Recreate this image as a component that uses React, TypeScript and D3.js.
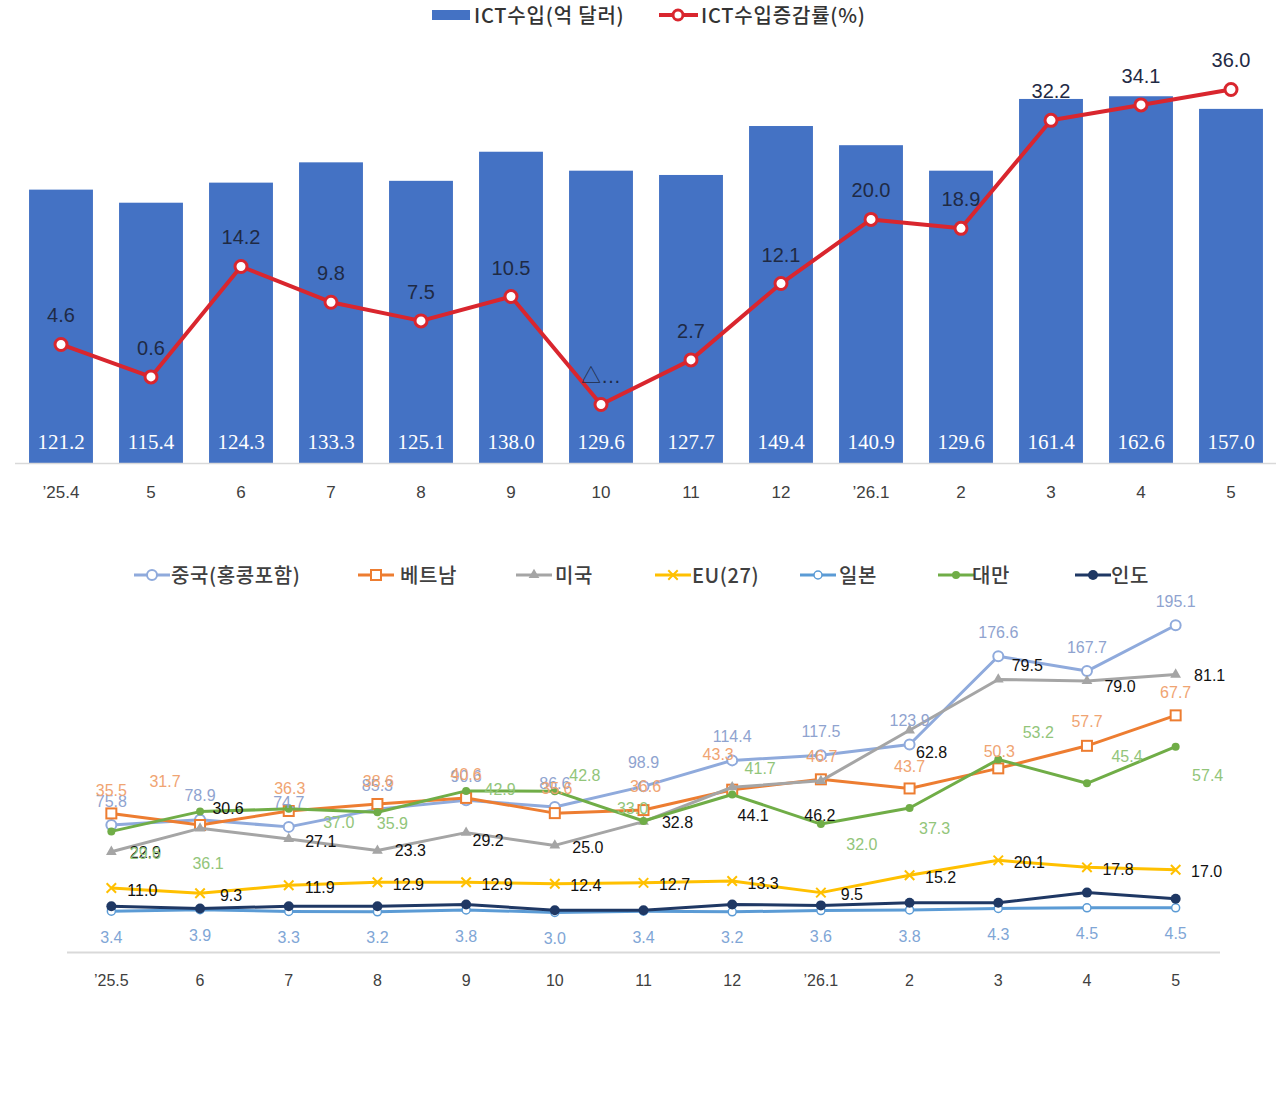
import React from 'react';
import * as d3 from 'd3';

// top chart: ICT imports (bars) and growth rate (line)
const topMonths = ['’25.4', '5', '6', '7', '8', '9', '10', '11', '12', '’26.1', '2', '3', '4', '5'];
const importValues = [121.2, 115.4, 124.3, 133.3, 125.1, 138.0, 129.6, 127.7, 149.4, 140.9, 129.6, 161.4, 162.6, 157.0];
const growthRates = [4.6, 0.6, 14.2, 9.8, 7.5, 10.5, -2.8, 2.7, 12.1, 20.0, 18.9, 32.2, 34.1, 36.0];
const growthLabels = ['4.6', '0.6', '14.2', '9.8', '7.5', '10.5', '△…', '2.7', '12.1', '20.0', '18.9', '32.2', '34.1', '36.0'];

// bottom chart: imports by country
const bottomMonths = ['’25.5', '6', '7', '8', '9', '10', '11', '12', '’26.1', '2', '3', '4', '5'];
const chinaValues = [75.8, 78.9, 74.7, 85.3, 90.6, 86.6, 98.9, 114.4, 117.5, 123.9, 176.6, 167.7, 195.1];
const vietnamValues = [35.5, 31.7, 36.3, 38.6, 40.6, 35.6, 36.6, 43.3, 46.7, 43.7, 50.3, 57.7, 67.7];
const usValues = [22.9, 30.6, 27.1, 23.3, 29.2, 25.0, 32.8, 44.1, 46.2, 62.8, 79.5, 79.0, 81.1];
const euValues = [11.0, 9.3, 11.9, 12.9, 12.9, 12.4, 12.7, 13.3, 9.5, 15.2, 20.1, 17.8, 17.0];
const japanValues = [3.4, 3.9, 3.3, 3.2, 3.8, 3.0, 3.4, 3.2, 3.6, 3.8, 4.3, 4.5, 4.5];
const taiwanValues = [29.6, 36.1, 37.0, 35.9, 42.9, 42.8, 33.0, 41.7, 32.0, 37.3, 53.2, 45.4, 57.4];
const indiaValues = [5.0, 4.3, 5.0, 5.0, 5.6, 3.7, 3.7, 5.6, 5.3, 6.2, 6.2, 9.5, 7.5];

const sans = '"Liberation Sans", Arial, "Noto Sans CJK KR", sans-serif';
const kr = '"Noto Sans CJK KR", "Liberation Sans", sans-serif';

// label placement relative to each point
const chinaOff = chinaValues.map(() => [0, -24]);
const vietnamOff = [[0, -23], [-35, -44], [1, -23], [1, -23], [0, -24], [2, -25], [2, -24], [-14, -35], [1, -23], [0, -22], [1, -17], [0, -24], [0, -23]];
const usOff = [[34, 1], [28, -20], [32, 2], [33, 0], [22, 8], [33, 2], [34, 1], [21, 28], [-1, 35], [22, 22], [29, -14], [33, 5], [34, 1]];
const euOff = euValues.map(() => [31, 2]);
const japanOff = japanValues.map(() => [0, 26]);
const taiwanOff = [[34, 22], [8, 52], [50, 14], [15, 11], [34, -1], [30, -16], [-11, -13], [28, -26], [41, 20], [25, 20], [40, -27], [40, -27], [32, 29]];

type Marker = 'circle' | 'square' | 'triangle' | 'x' | 'smallCircle' | 'dot' | 'bigDot';

interface Series {
  name: string;
  values: number[];
  color: string;
  labelColor: string | null;
  marker: Marker;
  secondary: boolean;
  offsets: number[][] | null;
}

const series: Series[] = [
  { name: '중국(홍콩포함)', values: chinaValues, color: '#8FAADC', labelColor: '#8FA3CF', marker: 'circle', secondary: true, offsets: chinaOff },
  { name: '베트남', values: vietnamValues, color: '#ED7D31', labelColor: '#F0A472', marker: 'square', secondary: false, offsets: vietnamOff },
  { name: '미국', values: usValues, color: '#A5A5A5', labelColor: '#111111', marker: 'triangle', secondary: false, offsets: usOff },
  { name: 'EU(27)', values: euValues, color: '#FFC000', labelColor: '#111111', marker: 'x', secondary: false, offsets: euOff },
  { name: '일본', values: japanValues, color: '#5B9BD5', labelColor: '#7FA6D6', marker: 'smallCircle', secondary: false, offsets: japanOff },
  { name: '대만', values: taiwanValues, color: '#70AD47', labelColor: '#92C57A', marker: 'dot', secondary: false, offsets: taiwanOff },
  { name: '인도', values: indiaValues, color: '#1F3864', labelColor: null, marker: 'bigDot', secondary: false, offsets: null },
];

const drawMarker = (m: Marker, x: number, y: number, color: string, key: string) => {
  switch (m) {
    case 'circle':
      return <circle key={key} cx={x} cy={y} r={5} fill="#fff" stroke={color} strokeWidth={2} />;
    case 'square':
      return <rect key={key} x={x - 5} y={y - 5} width={10} height={10} fill="#fff" stroke={color} strokeWidth={2} />;
    case 'triangle':
      return <path key={key} d={d3.symbol().type(d3.symbolTriangle).size(50)()!} transform={`translate(${x},${y})`} fill={color} />;
    case 'x':
      return <path key={key} d={d3.symbol().type(d3.symbolTimes).size(60)()!} transform={`translate(${x},${y})`} fill="none" stroke={color} strokeWidth={2} />;
    case 'smallCircle':
      return <circle key={key} cx={x} cy={y} r={4} fill="#fff" stroke={color} strokeWidth={1.5} />;
    case 'dot':
      return <circle key={key} cx={x} cy={y} r={4} fill={color} />;
    default:
      return <circle key={key} cx={x} cy={y} r={5} fill={color} />;
  }
};

const App: React.FC = () => {
  // ---- top chart scales
  const xBand = d3.scaleBand<number>()
    .domain(d3.range(topMonths.length))
    .range([16, 1276])
    .paddingInner(0.29)
    .paddingOuter(0.145);
  const yBar = d3.scaleLinear().domain([0, 180]).range([463, 57]);
  const yRate = d3.scaleLinear().domain([-10, 40]).range([463, 57]);
  const xc = (i: number) => xBand(i)! + xBand.bandwidth() / 2;

  const rateLine = d3.line<number>()
    .x((_, i) => xc(i))
    .y(d => yRate(d));

  // ---- bottom chart scales
  const xPoint = d3.scalePoint<number>()
    .domain(d3.range(bottomMonths.length))
    .range([67, 1220])
    .padding(0.5);
  const yPrim = d3.scaleLinear().domain([-10, 100]).range([952, 617]);
  const ySec = d3.scaleLinear().domain([0, 200]).range([952, 617]);

  return (
    <div style={{ position: 'absolute', left: 0, top: 0 }}>
      <svg width={1280} height={1093} style={{ display: 'block', background: '#fff' }}>
        {/* top legend */}
        <rect x={432} y={10} width={38} height={10} fill="#4472C4" />
        <text x={474} y={16} dy="0.35em" fontFamily={kr} fontSize={20} letterSpacing={0.8} fontWeight={500} fill="#333">ICT수입(억 달러)</text>
        <line x1={659} x2={698} y1={15} y2={15} stroke="#D9262E" strokeWidth={4} />
        <circle cx={678} cy={15} r={5} fill="#fff" stroke="#D9262E" strokeWidth={3} />
        <text x={701} y={16} dy="0.35em" fontFamily={kr} fontSize={20} letterSpacing={0.8} fontWeight={500} fill="#333">ICT수입증감률(%)</text>

        {/* bars */}
        {importValues.map((v, i) => (
          <rect key={`b${i}`} x={xBand(i)} y={yBar(v)} width={xBand.bandwidth()} height={yBar(0) - yBar(v)} fill="#4472C4" />
        ))}
        <line x1={15} x2={1276} y1={463.5} y2={463.5} stroke="#D9D9D9" strokeWidth={1.5} />
        {importValues.map((v, i) => (
          <text key={`bl${i}`} x={xc(i)} y={442} dy="0.35em" textAnchor="middle"
            fontFamily='"Liberation Serif", serif' fontSize={21} fill="#fff">{v.toFixed(1)}</text>
        ))}

        {/* growth line */}
        <path d={rateLine(growthRates)!} fill="none" stroke="#D9262E" strokeWidth={4} strokeLinejoin="round" />
        {growthRates.map((v, i) => (
          <circle key={`rc${i}`} cx={xc(i)} cy={yRate(v)} r={6} fill="#fff" stroke="#D9262E" strokeWidth={3} />
        ))}
        {growthRates.map((v, i) => (
          <text key={`rl${i}`} x={xc(i)} y={yRate(v) - 29} dy="0.35em" textAnchor="middle"
            fontFamily={sans} fontSize={20} fill="#1F2A44">{growthLabels[i]}</text>
        ))}

        {/* top x axis labels */}
        {topMonths.map((m, i) => (
          <text key={`tx${i}`} x={xc(i)} y={492} dy="0.35em" textAnchor="middle"
            fontFamily={sans} fontSize={17} fill="#404040">{m}</text>
        ))}

        {/* bottom legend */}
        {series.map((s, i) => {
          const lx = [134, 358, 516, 655, 800, 938, 1075][i];
          const tx = [171, 400, 555, 692, 839, 972, 1111][i];
          return (
            <g key={`lg${i}`}>
              <line x1={lx} x2={lx + 36} y1={575} y2={575} stroke={s.color} strokeWidth={3} />
              {drawMarker(s.marker, lx + 18, 575, s.color, `lgm${i}`)}
              <text x={tx} y={576} dy="0.35em" fontFamily={kr} fontSize={20} letterSpacing={0.6} fontWeight={500} fill="#404040">{s.name}</text>
            </g>
          );
        })}

        {/* bottom axis */}
        <line x1={67} x2={1220} y1={952.5} y2={952.5} stroke="#D9D9D9" strokeWidth={2} />
        {bottomMonths.map((m, i) => (
          <text key={`bx${i}`} x={xPoint(i)} y={980} dy="0.35em" textAnchor="middle"
            fontFamily={sans} fontSize={16} fill="#404040">{m}</text>
        ))}

        {/* series lines and markers */}
        {series.map((s, si) => {
          const y = s.secondary ? ySec : yPrim;
          const line = d3.line<number>().x((_, i) => xPoint(i)!).y(d => y(d));
          return (
            <g key={`s${si}`}>
              <path d={line(s.values)!} fill="none" stroke={s.color} strokeWidth={3} strokeLinejoin="round" />
              {s.values.map((v, i) => drawMarker(s.marker, xPoint(i)!, y(v), s.color, `m${si}-${i}`))}
            </g>
          );
        })}

        {/* data labels */}
        {series.map((s, si) => {
          if (!s.offsets || !s.labelColor) return null;
          const y = s.secondary ? ySec : yPrim;
          return (
            <g key={`l${si}`}>
              {s.values.map((v, i) => (
                <text key={i} x={xPoint(i)! + s.offsets![i][0]} y={y(v) + s.offsets![i][1]} dy="0.35em"
                  textAnchor="middle" fontFamily={sans} fontSize={16} fill={s.labelColor!}>{v.toFixed(1)}</text>
              ))}
            </g>
          );
        })}
      </svg>
    </div>
  );
};

export default App;
